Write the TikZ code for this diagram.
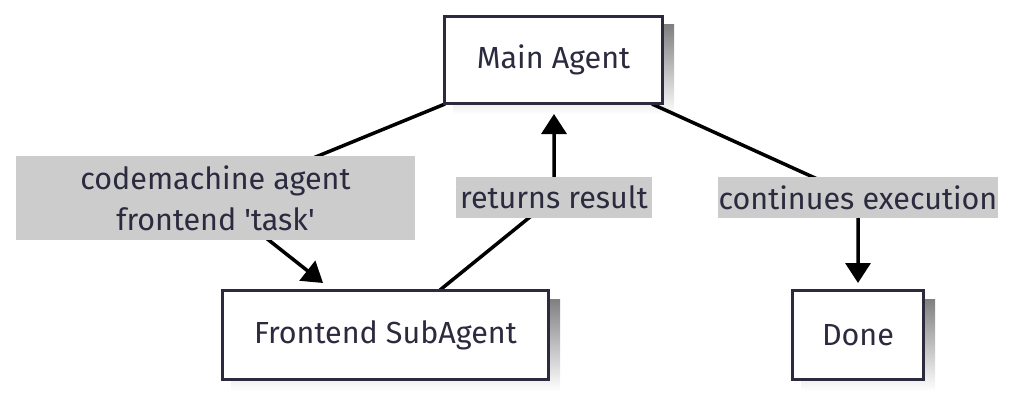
\documentclass[tikz,border=0pt]{standalone}
\usepackage{fontspec}
\setmainfont{Fira Sans}
\usetikzlibrary{arrows.meta}
\definecolor{ink}{HTML}{2B2A3F}
\definecolor{labelbg}{HTML}{CCCCCC}
\definecolor{shade}{HTML}{F0F0F0}
\tikzset{
  box/.style={draw=ink, line width=3.5pt, fill=white, rectangle, inner sep=0pt,
    text=ink, font=\fontsize{30.5}{36}\selectfont},
  edgelabel/.style={fill=labelbg, rectangle, inner sep=0pt, text=ink,
    font=\fontsize{30.5}{41}\selectfont, align=center},
  flow/.style={draw=black, line width=3.5pt},
  tip/.style={-{Triangle[width=25pt,length=20pt]}}
}
\begin{document}
\begin{tikzpicture}[x=1pt,y=-1pt]
  \useasboundingbox (0,0) rectangle (1015,396);
  % node shadows
  \fill[shade] (453,25) rectangle (674,115);
  \fill[shade] (231,299) rectangle (560,391);
  \fill[shade] (801,299) rectangle (935,391);
  % anchor points on the paths
  \coordinate (s1) at (445,104);
  \coordinate (t1) at (323,283);
  \coordinate (s2) at (440,290);
  \coordinate (t2) at (554,114);
  \coordinate (s3) at (652,104);
  \coordinate (t3) at (858,283);
  % label positions
  \coordinate (p1) at (215.5,198);
  \coordinate (p2) at (554,197.5);
  \coordinate (p3) at (858,197.5);
  % connectors
  \draw[flow,tip] (s1) -- (p1) -- (t1);
  \draw[flow,tip] (s2) -- (p2) -- (t2);
  \draw[flow,tip] (s3) -- (p3) -- (t3);
  % edge labels
  \node[edgelabel, minimum width=399pt, minimum height=84pt] (l1) at (p1)
    {codemachine agent\\frontend \textquotesingle task\textquotesingle};
  \node[edgelabel, minimum width=196pt, minimum height=41pt] (l2) at (p2) {returns result};
  \node[edgelabel, minimum width=280pt, minimum height=41pt] (l3) at (p3) {continues execution};
  % boxes
  \node[box, minimum width=218pt, minimum height=87pt] (main) at (553.5,60) {Main Agent};
  \node[box, minimum width=326pt, minimum height=89pt] (sub) at (385.5,335) {Frontend SubAgent};
  \node[box, minimum width=131pt, minimum height=89pt] (done) at (858,335) {Done};
\end{tikzpicture}
\end{document}
